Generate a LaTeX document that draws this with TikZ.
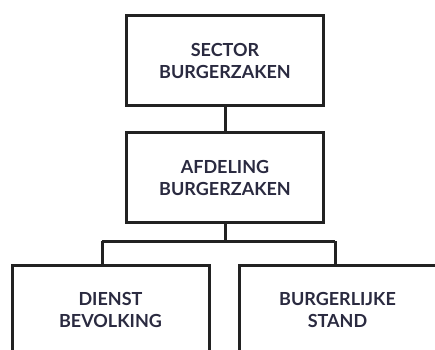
\documentclass[tikz,border=0pt]{standalone}
\usepackage{fontspec}
\setmainfont{Lato}
\definecolor{boxline}{HTML}{222222}
\definecolor{labelink}{HTML}{2A2A40}
\begin{document}
\begin{tikzpicture}[x=1pt,y=-1pt,
  box/.style={draw=boxline, line width=3pt, minimum width=197pt, minimum height=90pt,
    align=center, inner sep=0pt, text=labelink,
    font=\bfseries\fontsize{18}{22}\selectfont},
  link/.style={draw=boxline, line width=3pt}]
\useasboundingbox (0,0) rectangle (435,349);
\clip (0,0) rectangle (435,349);
% organisation boxes
\node[box] (sector)   at (225,60.5)  {SECTOR\\BURGERZAKEN};
\node[box] (afdeling) at (225,177.5) {AFDELING\\BURGERZAKEN};
\node[box] (dienst)   at (110.5,310) {DIENST\\BEVOLKING};
\node[box] (stand)    at (337.5,310) {BURGERLIJKE\\STAND};
% bus between department and services
\coordinate (busL) at (102,241);
\coordinate (busR) at (335,241);
\draw[link] (sector) -- (afdeling);
\draw[link] (afdeling.south) -- (afdeling.south |- busL);
\draw[link] (busL) -- (busR);
\draw[link] (busL) -- (busL |- dienst.north);
\draw[link] (busR) -- (busR |- stand.north);
\end{tikzpicture}
\end{document}
